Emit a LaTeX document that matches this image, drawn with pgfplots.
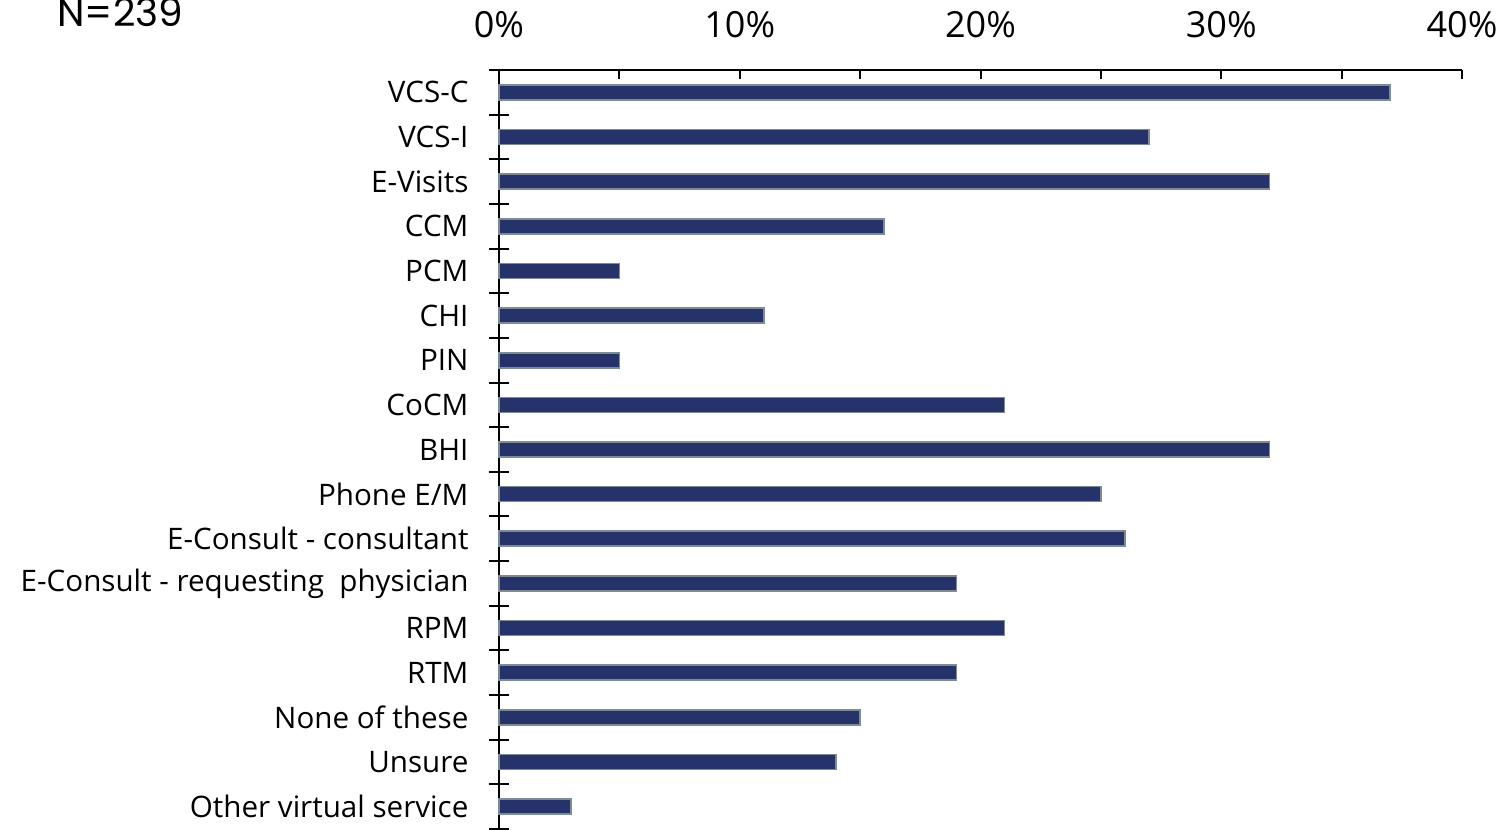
\documentclass[border=0pt]{standalone}
\usepackage{pgfplots}
\pgfplotsset{compat=1.18}
\usepackage{fontspec}
\setmainfont{Open Sans}
\newfontfamily\nfont{Poppins}

\definecolor{barnavy}{HTML}{25336A}
\definecolor{baredge}{HTML}{7F8B93}

\begin{document}
\begin{tikzpicture}
\begin{axis}[
  name=ax,
  scale only axis,
  width=481.5pt, height=379.5pt,
  xbar, bar width=7.5pt, bar shift=0pt,
  xmin=0, xmax=40,
  ymin=-0.5, ymax=16.5,
  axis x line*=top, axis y line*=left,
  axis line style={-, line width=1pt, black},
  xtick={0,5,...,40},
  xticklabels={0\%,,10\%,,20\%,,30\%,,40\%},
  xtick align=inside,
  major tick length=4.5pt,
  major tick style={line width=1pt, black},
  xticklabel style={font=\fontsize{18}{21}\selectfont, anchor=base, yshift=16pt},
  ytick={0,...,16},
  yticklabels={Other virtual service, Unsure, None of these, RTM, RPM,
    {E-Consult - requesting\ \ physician}, E-Consult - consultant, Phone E/M,
    BHI, CoCM, PIN, CHI, PCM, CCM, E-Visits, VCS-I, VCS-C},
  every major y tick/.append style={draw=none},
  minor ytick={-0.5,0.5,...,16.5},
  minor tick length=10pt,
  ytick align=center,
  every minor y tick/.append style={line width=1pt, black},
  yticklabel style={font=\fontsize{14.8}{17}\selectfont, anchor=east, xshift=-9.5pt},
  /pgf/number format/assume math mode=true,
  clip=false,
]
\addplot[fill=barnavy, draw=baredge, line width=0.8pt] coordinates {
  (3,0) (14,1) (15,2) (19,3) (21,4) (19,5) (26,6) (25,7)
  (32,8) (21,9) (5,10) (11,11) (5,12) (16,13) (32,14) (27,15) (37,16)
};
\end{axis}
\node[anchor=base west, inner sep=0pt, font=\nfont\fontsize{19.5}{22}\selectfont]
  at ([xshift=-221pt, yshift=21.5pt]ax.north west) {N=239};
\pgfresetboundingbox
\useasboundingbox ([xshift=-249.5pt]ax.south west) rectangle ([xshift=24pt, yshift=35pt]ax.north east);
\end{tikzpicture}
\end{document}
